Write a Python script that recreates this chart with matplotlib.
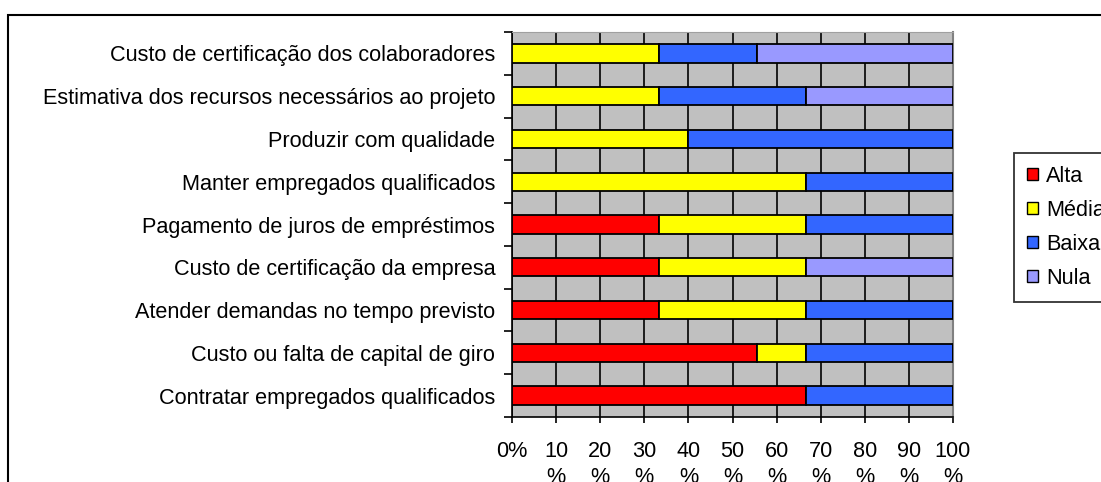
import matplotlib.pyplot as plt
from matplotlib.patches import Rectangle
import numpy as np

plt.rcParams['font.family'] = ['Liberation Sans', 'DejaVu Sans']

# categories listed bottom -> top
categories = ['Contratar empregados qualificados',
              'Custo ou falta de capital de giro',
              'Atender demandas no tempo previsto',
              'Custo de certificação da empresa',
              'Pagamento de juros de empréstimos',
              'Manter empregados qualificados',
              'Produzir com qualidade',
              'Estimativa dos recursos necessários ao projeto',
              'Custo de certificação dos colaboradores']

alta  = [66.7, 55.6, 33.3, 33.3, 33.3, 0.0, 0.0, 0.0, 0.0]
media = [0.0, 11.1, 33.3, 33.3, 33.3, 66.7, 40.0, 33.3, 33.3]
baixa = [33.3, 33.3, 33.4, 0.0, 33.4, 33.3, 60.0, 33.3, 22.2]
nula  = [0.0, 0.0, 0.0, 33.4, 0.0, 0.0, 0.0, 33.4, 44.5]

series = ['Alta', 'Média', 'Baixa', 'Nula']
colors = ['#FF0000', '#FFFF00', '#3366FF', '#9999FF']

xticks = [0, 10, 20, 30, 40, 50, 60, 70, 80, 90, 100]
xticklabels = ['0%'] + ['%d\n%%' % v for v in xticks[1:]]

fs = 15.6

fig = plt.figure(figsize=(11.01, 4.82), dpi=100)
ax = fig.add_axes([512/1101, 1 - 417/482, (953 - 512)/1101, (417 - 32)/482])
ax.set_facecolor('#C0C0C0')

y = np.arange(len(categories))
left = np.zeros(len(categories))
for name, vals, c in zip(series, [alta, media, baixa, nula], colors):
    vals = np.array(vals)
    ax.barh(y, vals, height=0.43, left=left, color=c, edgecolor='black',
            linewidth=1.3, label=name, zorder=3)
    left += vals

ax.set_xlim(0, 100)
ax.set_ylim(-0.5, len(categories) - 0.5)
ax.set_xticks(xticks)
ax.set_xticklabels(xticklabels, fontsize=fs, linespacing=1.35)
ax.xaxis.grid(True, color='black', linewidth=1.2, zorder=1)
ax.set_axisbelow(True)

ax.set_yticks(y)
ax.set_yticklabels(categories, fontsize=fs)
ax.set_yticks(np.arange(len(categories) + 1) - 0.5, minor=True)
ax.tick_params(axis='y', which='major', length=0, pad=12)
ax.tick_params(axis='y', which='minor', length=6, width=1.2, direction='out')
ax.tick_params(axis='x', length=4, width=1.2, pad=13)

ax.spines['left'].set_color('black')
ax.spines['bottom'].set_color('black')
ax.spines['left'].set_linewidth(1.2)
ax.spines['bottom'].set_linewidth(1.2)
ax.spines['right'].set_color('#808080')
ax.spines['right'].set_linewidth(1.5)
ax.spines['top'].set_color('#A0A0A0')
ax.spines['top'].set_linewidth(0.8)

leg = fig.legend(loc='upper left', bbox_to_anchor=(1014/1101, 1 - 153/482),
                 bbox_transform=fig.transFigure, fontsize=fs, frameon=True,
                 fancybox=False, borderaxespad=0, borderpad=0.6,
                 handlelength=0.5, handleheight=0.5, handletextpad=0.38,
                 labelspacing=0.6)
leg.get_frame().set_edgecolor('black')
leg.get_frame().set_linewidth(1.3)
for p in leg.get_patches():
    p.set_linewidth(1.0)

# outer chart-area border
fig.patches.append(Rectangle((8/1101, -0.1), 1.2, 1 - 15/482 + 0.1,
                             transform=fig.transFigure, fill=False,
                             edgecolor='black', linewidth=1.5))

fig.savefig('out.png', dpi=100)
